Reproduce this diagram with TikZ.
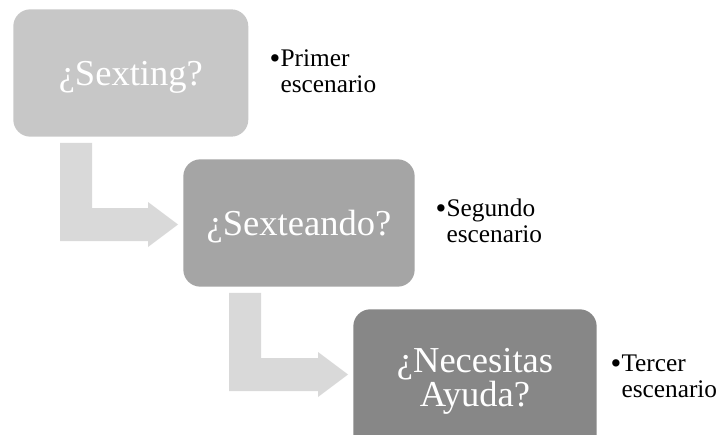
\documentclass[tikz,border=0pt]{standalone}
\usepackage{fontspec}
\setmainfont{Liberation Serif}
\usetikzlibrary{calc}
\definecolor{boxA}{HTML}{C7C7C7}
\definecolor{boxB}{HTML}{A5A5A5}
\definecolor{boxC}{HTML}{878787}
\definecolor{arrowgray}{HTML}{D9D9D9}
\tikzset{
  stagebox/.style={rectangle, rounded corners=12.75pt, inner sep=0pt, text=white,
    font=\fontsize{27.4}{25.5}\selectfont, align=center},
  bultext/.style={inner sep=0pt, anchor=base west, text=black,
    font=\fontsize{19}{19.4}\selectfont},
  arrowfill/.style={fill=arrowgray},
}
\newcommand\bentarrow[2]{%
  \path[arrowfill] let \p1=(#1), \p2=(#2) in
    (\x1,\y1) -- (\x1+24pt,\y1) -- (\x1+24pt,\y2+12.375pt)
    -- (\x2-22.5pt,\y2+12.375pt) -- (\x2-22.5pt,\y2+16.875pt)
    -- (\x2,\y2) -- (\x2-22.5pt,\y2-16.875pt) -- (\x2-22.5pt,\y2-12.375pt)
    -- (\x1,\y2-12.375pt) -- cycle;}
\newcommand\bulitem[2]{\begin{tabular}[t]{@{}l@{}l@{}}\makebox[8.25pt][l]{\raisebox{-1.1pt}{\fontsize{23}{19.4}\selectfont\textbullet}}&#1\\&#2\end{tabular}}
\begin{document}
\begin{tikzpicture}[x=0.75pt,y=-0.75pt]
\useasboundingbox (0,0) rectangle (721,435);
% stage boxes
\node[stagebox, fill=boxA, minimum width=176.25pt, minimum height=95.5pt,
      text height=18pt, text depth=0pt] (s1) at (130.8,73) {¿Sexting?};
\node[stagebox, fill=boxB, minimum width=173.5pt, minimum height=95.5pt,
      text height=18pt, text depth=0pt] (s2) at (299,223) {¿Sexteando?};
\node[stagebox, fill=boxC, minimum width=182.5pt, minimum height=108.3pt] (s3) at (475,381.5) {¿Necesitas\\Ayuda?};
% bent arrows
\coordinate (a1) at ($(s1.south west)+(47,6)$);
\coordinate (t1) at ($(s2.west)+(-5,1.5)$);
\coordinate (a2) at ($(s2.south west)+(46,6)$);
\coordinate (t2) at ($(s3.west)+(-5,-7)$);
\bentarrow{a1}{t1}
\bentarrow{a2}{t2}
% bullet texts
\node[bultext] (b1) at ($(s1.east)+(20.7,-6.3)$) {\bulitem{Primer}{escenario}};
\node[bultext] (b2) at ($(s2.east)+(20.3,-6.3)$) {\bulitem{Segundo}{escenario}};
\node[bultext] (b3) at ($(s3.east)+(13.3,-9.8)$) {\bulitem{Tercer}{escenario}};
\end{tikzpicture}
\end{document}
